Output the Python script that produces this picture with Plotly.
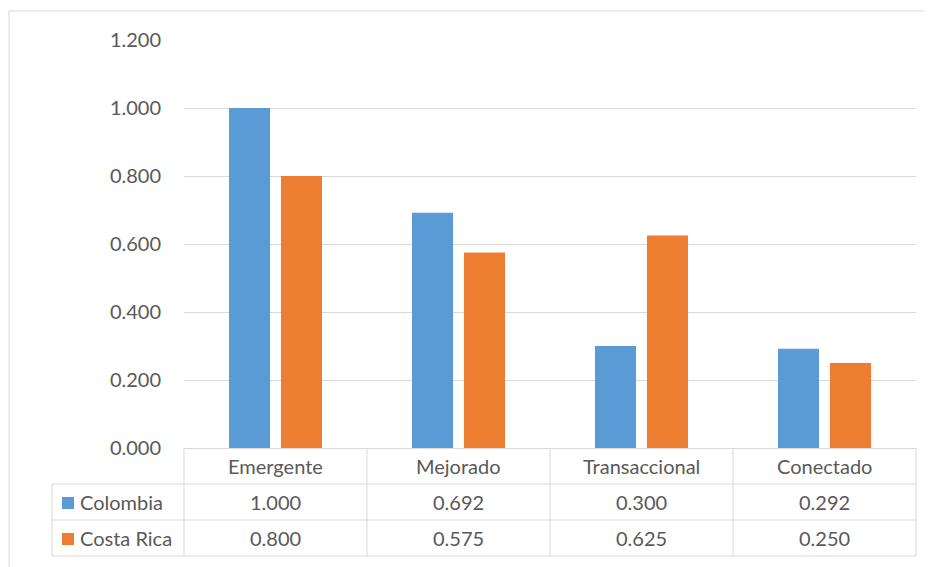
import plotly.graph_objects as go

categories = ["Emergente", "Mejorado", "Transaccional", "Conectado"]
series_names = ["Colombia", "Costa Rica"]
colombia = [1.000, 0.692, 0.300, 0.292]
costa_rica = [0.800, 0.575, 0.625, 0.250]
y_ticks = [0, 0.2, 0.4, 0.6, 0.8, 1.0, 1.2]
colors = ["#5B9BD5", "#ED7D31"]

OFF = 8  # page body margin
W, H = 932 - OFF, 567 - OFF
L, T = 184 - OFF, 40 - OFF
R = W - (916 - OFF)
B = H - (448 - OFF)
pw, ph = W - L - R, H - T - B

def px(x):
    return (x - OFF - L) / pw

def py(y):
    return (H - B - (y - OFF)) / ph

FONT = "Lato, 'Open Sans', sans-serif"
FS = 20
TXT = "#595959"
GRID = "#D9D9D9"

fig = go.Figure()
for name, vals, c in zip(series_names, [colombia, costa_rica], colors):
    fig.add_trace(go.Bar(x=categories, y=vals, name=name, marker=dict(color=c, line=dict(width=0))))

shapes = []
shapes.append(dict(type="rect", xref="paper", yref="paper", x0=px(9), x1=px(945), y0=py(11), y1=py(580),
                   line=dict(color=GRID, width=1), layer="below"))
row_y = [448, 484, 520, 556]
for yy in row_y[1:]:
    shapes.append(dict(type="line", xref="paper", yref="paper", x0=px(52), x1=px(916), y0=py(yy), y1=py(yy),
                       line=dict(color=GRID, width=1)))
for xx in [184, 367, 550, 733, 916]:
    shapes.append(dict(type="line", xref="paper", yref="paper", x0=px(xx), x1=px(xx), y0=py(448), y1=py(556),
                       line=dict(color=GRID, width=1)))
shapes.append(dict(type="line", xref="paper", yref="paper", x0=px(52), x1=px(52), y0=py(484), y1=py(556),
                   line=dict(color=GRID, width=1)))

annotations = []
for cat in categories:
    annotations.append(dict(x=cat, xref="x", y=py(466), yref="paper", text=cat, showarrow=False,
                            font=dict(family=FONT, size=FS, color=TXT), xanchor="center", yanchor="middle"))
for r, (name, vals, c) in enumerate(zip(series_names, [colombia, costa_rica], colors)):
    yc = 503 + 36 * r
    shapes.append(dict(type="rect", xref="paper", yref="paper", x0=px(62), x1=px(74), y0=py(yc - 6), y1=py(yc + 6),
                       fillcolor=c, line=dict(width=0)))
    annotations.append(dict(x=px(78), xref="paper", y=py(yc - 1), yref="paper", text=name, showarrow=False,
                            font=dict(family=FONT, size=FS, color=TXT), xanchor="left", yanchor="middle"))
    for cat, v in zip(categories, vals):
        annotations.append(dict(x=cat, xref="x", y=py(yc - 1), yref="paper", text=f"{v:.3f}", showarrow=False,
                                font=dict(family=FONT, size=FS, color=TXT), xanchor="center", yanchor="middle"))

fig.update_layout(
    width=W, height=H,
    margin=dict(l=L, r=R, t=T, b=B, autoexpand=False),
    paper_bgcolor="white", plot_bgcolor="white",
    barmode="group", bargap=0.432, bargroupgap=0.21,
    showlegend=False,
    shapes=shapes, annotations=annotations,
    font=dict(family=FONT, size=FS, color=TXT),
)
fig.update_xaxes(showticklabels=False, showgrid=False, showline=False, zeroline=False, ticks="")
fig.update_yaxes(range=[0, 1.2], tickvals=y_ticks, tickformat=".3f", showgrid=True, gridcolor=GRID, gridwidth=1,
                 zeroline=True, zerolinecolor=GRID, zerolinewidth=1, showline=False, ticks="",
                 ticklabelstandoff=22, tickfont=dict(family=FONT, size=FS, color=TXT))

fig.write_html("out.html")
